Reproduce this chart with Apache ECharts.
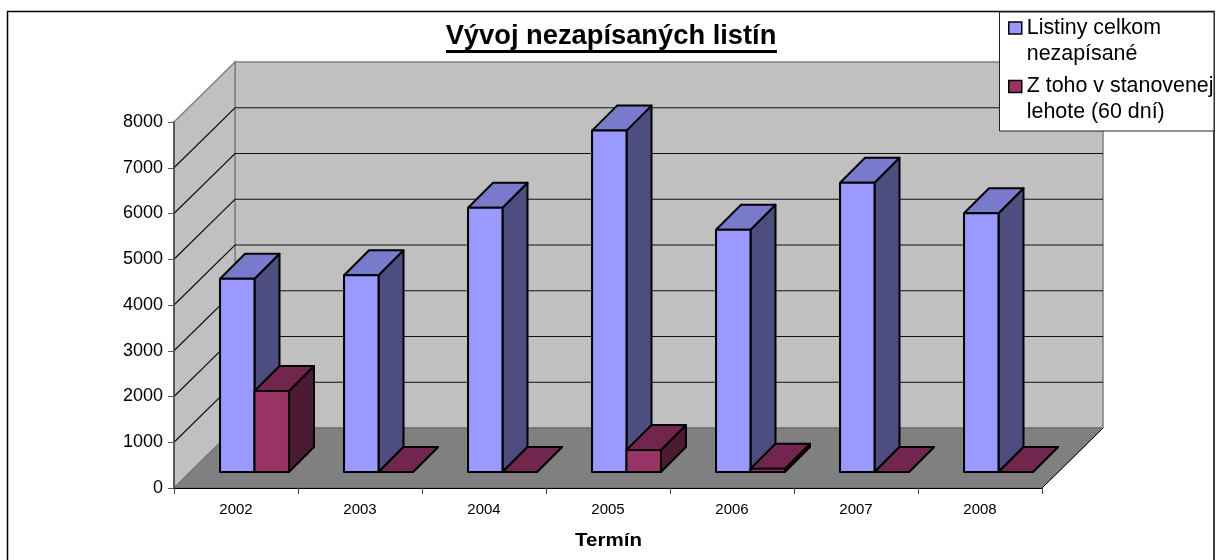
<!DOCTYPE html>
<html>
<head>
<meta charset="utf-8">
<title>Vývoj nezapísaných listín</title>
<script src="https://cdn.jsdelivr.net/npm/echarts@6/dist/echarts.min.js"></script>
<style>
  html, body { margin: 0; padding: 0; background: #fff; }
  #chart { width: 1217px; height: 560px; }
</style>
</head>
<body>
<div id="chart"></div>
<script>
const years = ['2002', '2003', '2004', '2005', '2006', '2007', '2008']
const totalValues = [4223, 4300, 5777, 7462, 5295, 6324, 5656]
const inTimeValues = [1772, 0, 0, 480, 70, 0, 0]
const yTicks = [1000, 2000, 3000, 4000, 5000, 6000, 7000]

const FONT = '"Liberation Sans", Arial, sans-serif'

// fake 3D depth in pixels
const FLOOR_DX = 61
const FLOOR_DY = -60
const BAR_DX = 18.5
const BAR_DY = -16
const BAR_DEPTH = 25
const BAR_SHARE = 0.278

const chart = echarts.init(document.getElementById('chart'))

// back wall, side wall, floor and their gridlines
const renderWalls = (params, api) => {
  const band = api.size([1, 0])[0]
  const x0 = api.coord([0, 0])[0] - band / 2
  const x1 = api.coord([years.length - 1, 0])[0] + band / 2
  const y0 = api.coord([0, 0])[1]
  const yTop = api.coord([0, 8000])[1]
  const wallStyle = { fill: '#c0c0c0', stroke: '#808080', lineWidth: 1.5 }
  const children = [
    { type: 'polygon', shape: { points: [[x0 + FLOOR_DX, yTop + FLOOR_DY], [x1 + FLOOR_DX, yTop + FLOOR_DY], [x1 + FLOOR_DX, y0 + FLOOR_DY], [x0 + FLOOR_DX, y0 + FLOOR_DY]] }, style: wallStyle },
    { type: 'polygon', shape: { points: [[x0, yTop], [x0 + FLOOR_DX, yTop + FLOOR_DY], [x0 + FLOOR_DX, y0 + FLOOR_DY], [x0, y0]] }, style: wallStyle }
  ]
  yTicks.forEach(v => {
    const y = api.coord([0, v])[1]
    children.push({
      type: 'polyline',
      shape: { points: [[x0, y], [x0 + FLOOR_DX, y + FLOOR_DY], [x1 + FLOOR_DX, y + FLOOR_DY]] },
      style: { fill: null, stroke: '#111', lineWidth: 1.2 }
    })
  })
  children.push({
    type: 'polygon',
    shape: { points: [[x0, y0], [x1, y0], [x1 + FLOOR_DX, y0 + FLOOR_DY], [x0 + FLOOR_DX, y0 + FLOOR_DY]] },
    style: { fill: '#808080', stroke: '#666', lineWidth: 1 }
  })
  children.push({
    type: 'line',
    shape: { x1: x1, y1: y0, x2: x1 + FLOOR_DX, y2: y0 + FLOOR_DY },
    style: { stroke: '#000', lineWidth: 1 }
  })
  return { type: 'group', children }
}

// one box; side is -1 for the bar left of the category centre, 0 for the right one
const makeBarRenderer = (side, colors) => (params, api) => {
  const idx = api.value(0)
  const base = api.coord([idx, 0])
  const top = api.coord([idx, api.value(1)])
  const w = api.size([1, 0])[0] * BAR_SHARE
  const x0 = base[0] + BAR_DX + side * w
  const x1 = x0 + w
  const yb = base[1] + BAR_DY
  const yt = top[1] + BAR_DY
  const d = BAR_DEPTH
  const line = { stroke: '#000', lineWidth: 2, lineJoin: 'round' }
  return {
    type: 'group',
    children: [
      { type: 'polygon', shape: { points: [[x1, yb], [x1 + d, yb - d], [x1 + d, yt - d], [x1, yt]] }, style: { fill: colors.side, ...line } },
      { type: 'polygon', shape: { points: [[x0, yt], [x1, yt], [x1 + d, yt - d], [x0 + d, yt - d]] }, style: { fill: colors.top, ...line } },
      { type: 'polygon', shape: { points: [[x0, yb], [x1, yb], [x1, yt], [x0, yt]] }, style: { fill: colors.front, ...line } }
    ]
  }
}

const option = {
  animation: false,
  backgroundColor: '#fff',
  title: {
    text: 'Vývoj nezapísaných listín',
    left: 611,
    top: 23,
    textAlign: 'center',
    padding: 0,
    textStyle: { fontFamily: FONT, fontSize: 27.3, fontWeight: 'bold', color: '#000' }
  },
  legend: {
    data: ['Listiny celkom\nnezapísané', 'Z toho v stanovenej\nlehote (60 dní)'],
    orient: 'vertical',
    left: 1008,
    top: -11,
    padding: 0,
    itemGap: -19.5,
    itemWidth: 13,
    itemHeight: 12,
    icon: 'rect',
    selectedMode: false,
    // blank first line keeps the marker level with the first text line
    formatter: name => '\n' + name,
    itemStyle: { borderColor: '#000', borderWidth: 1.5 },
    textStyle: { fontFamily: FONT, fontSize: 21.4, lineHeight: 26, color: '#000' }
  },
  grid: { left: 174, right: 175, top: 122, bottom: 72 },
  xAxis: {
    type: 'category',
    data: years,
    z: 5,
    axisLine: { lineStyle: { color: '#000', width: 1 } },
    axisTick: { show: true, length: 6, lineStyle: { color: '#444' } },
    axisLabel: { margin: 14, fontFamily: FONT, fontSize: 15, color: '#000' }
  },
  yAxis: {
    type: 'value',
    min: 0,
    max: 8000,
    interval: 1000,
    z: 5,
    splitLine: { show: false },
    axisLine: { show: true, lineStyle: { color: '#444', width: 1.5 } },
    axisTick: { show: true, length: 6, lineStyle: { color: '#555' } },
    axisLabel: { margin: 11, fontFamily: FONT, fontSize: 18, color: '#000', formatter: v => String(v) }
  },
  graphic: [
    { type: 'rect', z: 0, silent: true, shape: { x: 7.5, y: 11.5, width: 1206.5, height: 560 }, style: { fill: 'none', stroke: '#000', lineWidth: 1.5 } },
    { type: 'rect', z: 10, silent: true, shape: { x: 446, y: 50, width: 331, height: 3 }, style: { fill: '#000' } },
    { type: 'rect', z: 3, silent: true, shape: { x: 999.5, y: 12, width: 214.5, height: 119 }, style: { fill: '#fff', stroke: '#222', lineWidth: 1 } },
    { type: 'text', z: 10, silent: true, x: 608.5, y: 541, scaleX: 1.14, style: { text: 'Termín', font: 'bold 18px ' + FONT, fill: '#000', align: 'center', verticalAlign: 'middle' } }
  ],
  series: [
    {
      name: 'walls',
      type: 'custom',
      z: 1,
      silent: true,
      clip: false,
      data: [[0, 0]],
      encode: { x: 0, y: 1 },
      renderItem: renderWalls
    },
    {
      name: 'Listiny celkom\nnezapísané',
      type: 'custom',
      z: 2,
      clip: false,
      itemStyle: { color: '#9999ff' },
      data: totalValues.map((v, i) => [i, v]),
      encode: { x: 0, y: 1 },
      renderItem: makeBarRenderer(-1, { front: '#9999ff', top: '#7a7acc', side: '#4d4d80' })
    },
    {
      name: 'Z toho v stanovenej\nlehote (60 dní)',
      type: 'custom',
      z: 2,
      clip: false,
      itemStyle: { color: '#993366' },
      data: inTimeValues.map((v, i) => [i, v]),
      encode: { x: 0, y: 1 },
      renderItem: makeBarRenderer(0, { front: '#993366', top: '#72264d', side: '#4d1a33' })
    }
  ]
}

chart.setOption(option)
</script>
</body>
</html>
